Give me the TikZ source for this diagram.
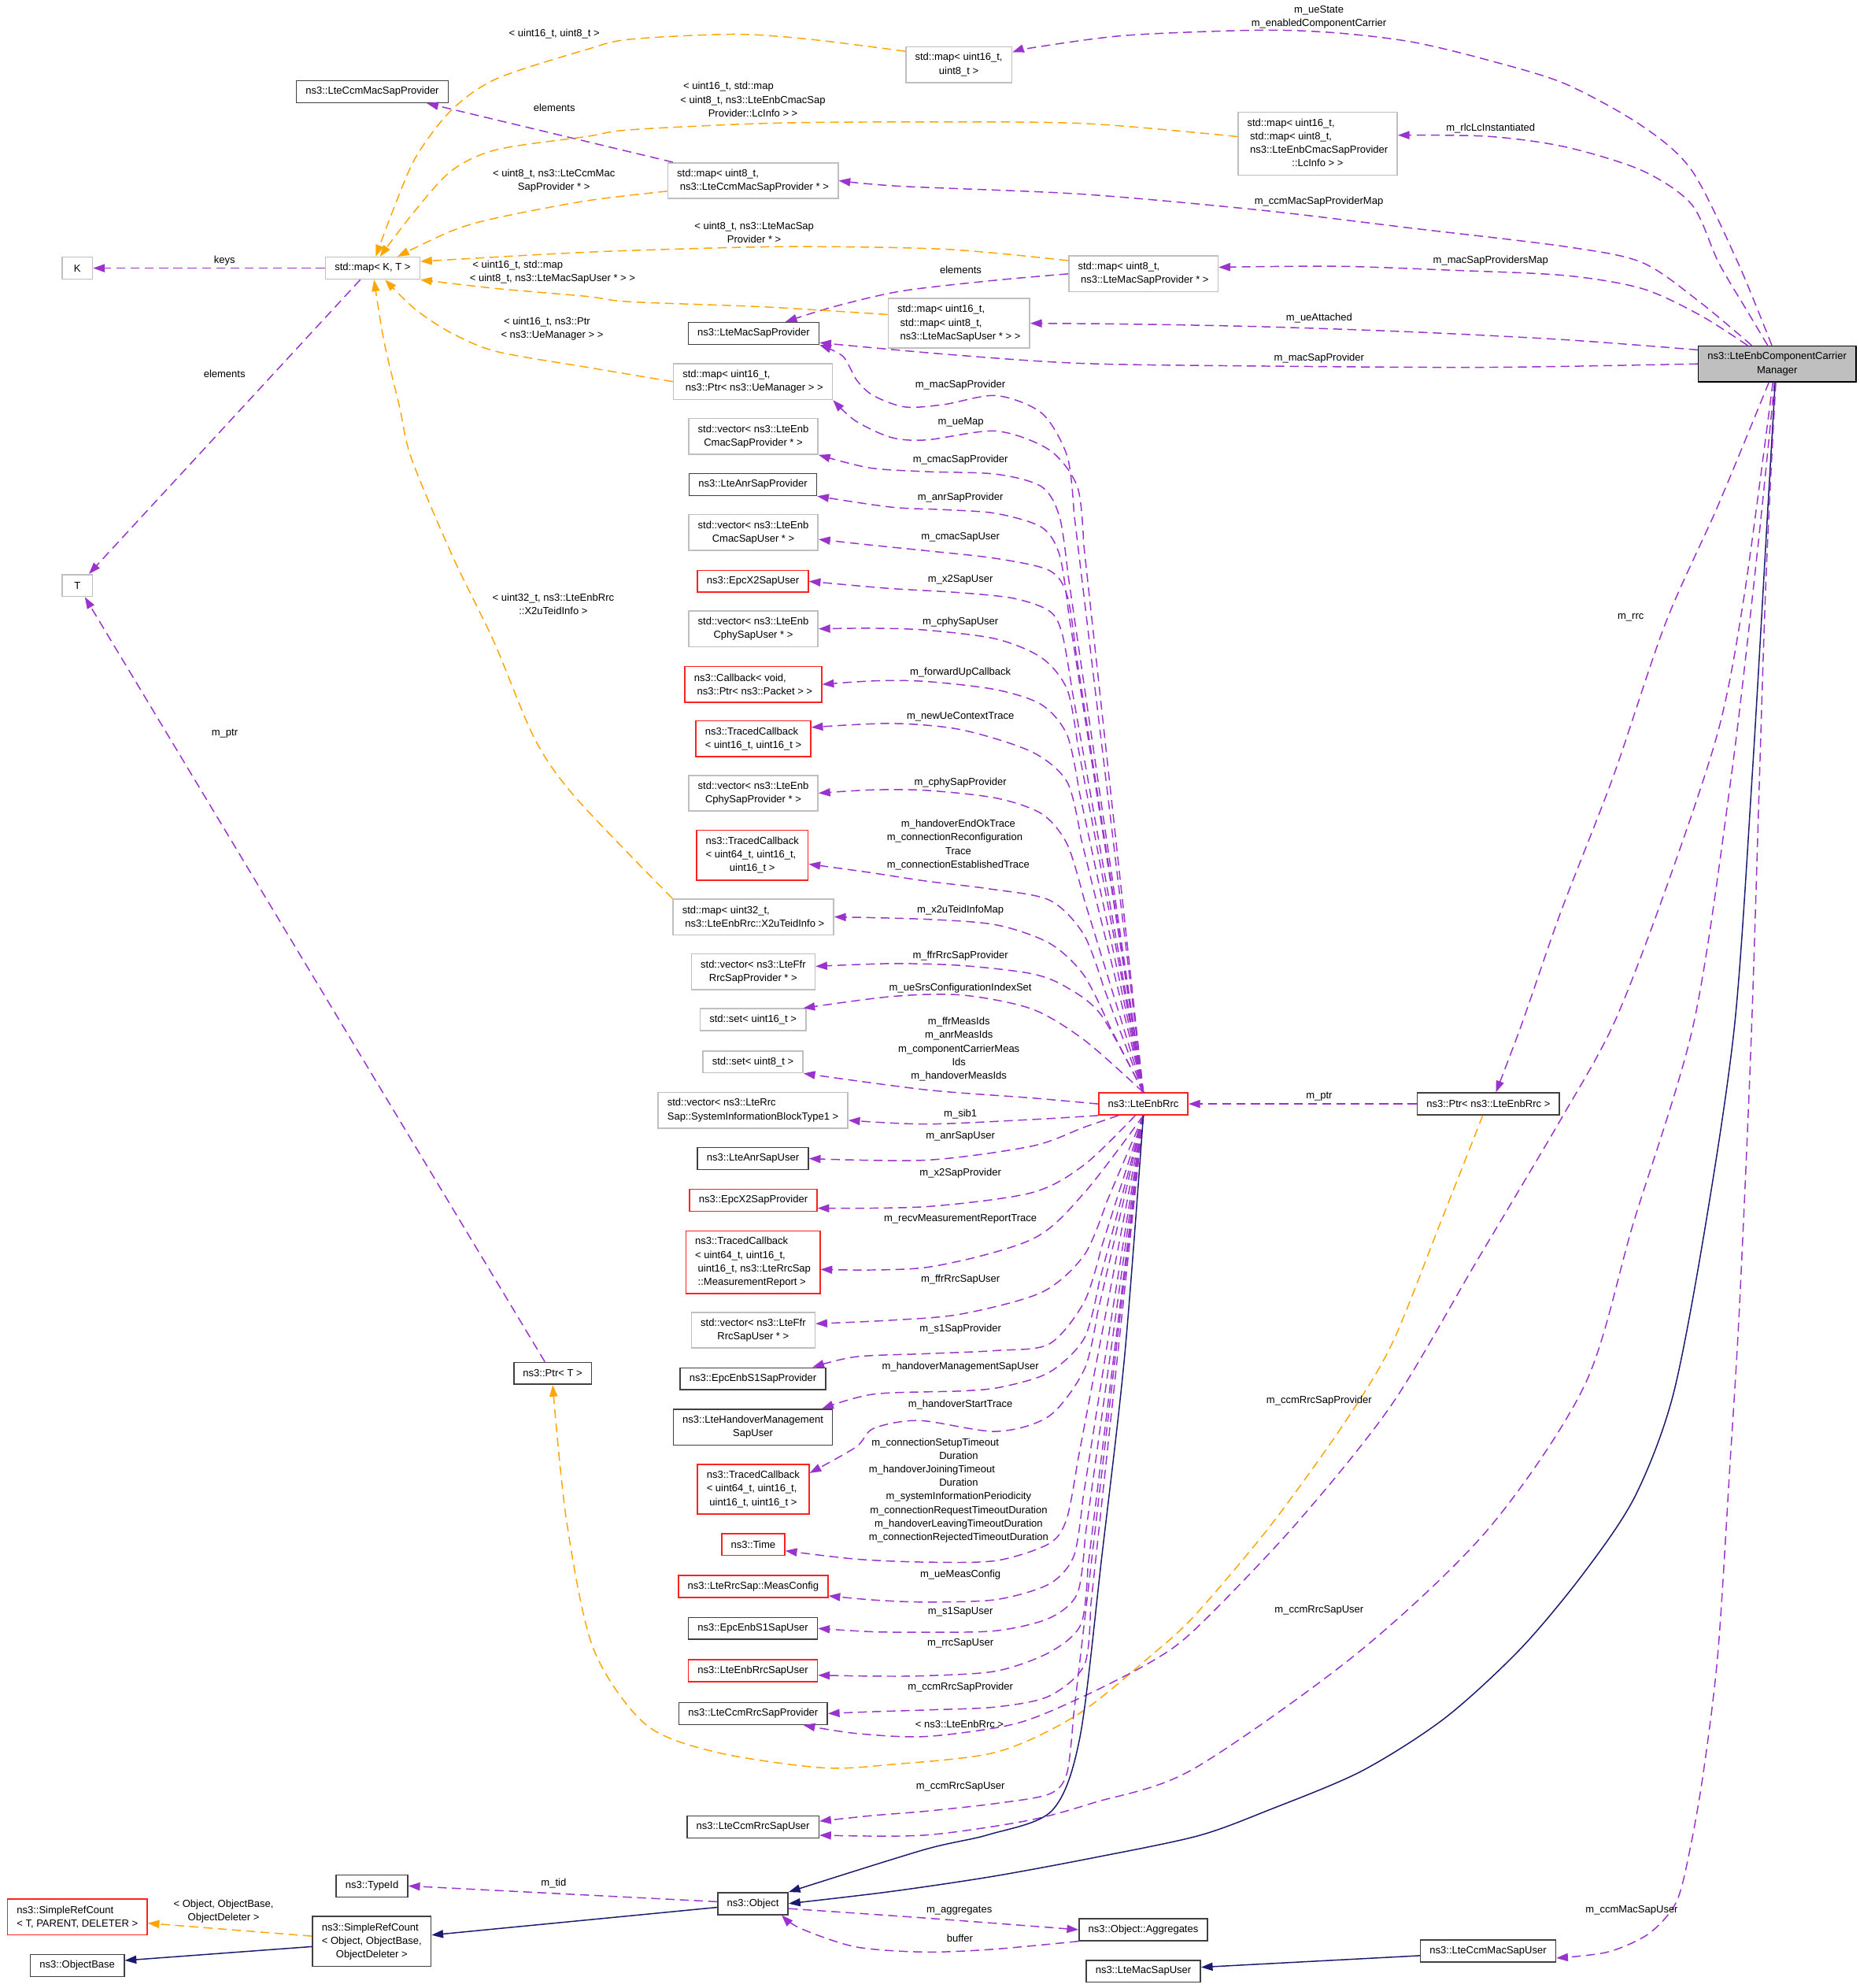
\documentclass[tikz,border=0pt]{standalone}
\usepackage{fontspec}
\setmainfont{Liberation Sans}
\usetikzlibrary{arrows.meta}
\definecolor{dxpurple}{HTML}{9A32CD}
\definecolor{dxorange}{HTML}{FFA500}
\definecolor{dxnavy}{HTML}{191970}
\definecolor{dxred}{HTML}{FF2020}
\definecolor{dxgray}{HTML}{BFBFBF}
\definecolor{dxdark}{HTML}{404040}
\newcommand{\dx}{\fontsize{11.5pt}{15.2pt}\selectfont}
\newcommand{\pad}{\hspace*{3.2pt}}
\newcommand{\lline}[1]{\multicolumn{1}{@{}l@{}}{#1}}
\newcommand{\mixed}[1]{\begin{tabular}{@{}c@{}}#1\end{tabular}}

\begin{document}
\begin{tikzpicture}[
  x=0.05cm, y=-0.05cm,
  cls/.style={draw=dxdark, fill=white, line width=1.4pt, inner xsep=10.4pt, inner ysep=0pt, minimum height=0.865cm, align=center, font=\dx},
  gr/.style={cls, draw=dxgray},
  rd/.style={cls, draw=dxred},
  h2/.style={minimum height=1.41cm},
  h3/.style={minimum height=1.96cm},
  h4/.style={minimum height=2.48cm},
  lbl/.style={inner sep=0pt, align=center, font=\dx},
  mem/.style={draw=dxpurple, line width=1.3pt, dash pattern=on 10pt off 6pt, -{Triangle[length=13pt, width=9pt]}},
  tmpl/.style={mem, draw=dxorange},
  inh/.style={draw=dxnavy, line width=1.3pt, -{Triangle[length=13pt, width=9pt]}}
]
\path[use as bounding box, fill=white] (0,0) rectangle (1467,1568);

\node[gr, minimum width=1.2cm] (k) at (61,211.5) {K};
\node[gr] (mapkt) at (294,211.5) {std::map< K, T >};
\node[gr, minimum width=1.2cm] (t) at (61,461.8) {T};
\node[cls] (ccmmacp) at (293.7,72.3) {ns3::LteCcmMacSapProvider};
\node[gr, h2] (map16) at (756.4,51) {std::map< uint16\_t,\\uint8\_t >};
\node[gr, h4] (maplc) at (1039.5,113.3) {\mixed{\lline{std::map< uint16\_t,}\\\lline{\pad std::map< uint8\_t,}\\\lline{\pad ns3::LteEnbCmacSapProvider}\\::LcInfo > >}};
\node[gr, h2, align=left] (mapccm) at (594,142.5) {std::map< uint8\_t,\\\pad ns3::LteCcmMacSapProvider * >};
\node[gr, h2, align=left] (mapmacp) at (902,216) {std::map< uint8\_t,\\\pad ns3::LteMacSapProvider * >};
\node[gr, h3, align=left] (mapmacu) at (756.5,255) {std::map< uint16\_t,\\\pad std::map< uint8\_t,\\\pad ns3::LteMacSapUser * > >};
\node[cls] (lmacp) at (594.5,263) {ns3::LteMacSapProvider};
\node[gr, h2, align=left] (mapue) at (594,301) {std::map< uint16\_t,\\\pad ns3::Ptr< ns3::UeManager > >};
\node[gr, h2] (vcmacp) at (594.3,344.2) {std::vector< ns3::LteEnb\\CmacSapProvider * >};
\node[cls] (anrp) at (594,382.2) {ns3::LteAnrSapProvider};
\node[gr, h2] (vcmacu) at (594.3,420) {std::vector< ns3::LteEnb\\CmacSapUser * >};
\node[rd] (x2u) at (594,458.5) {ns3::EpcX2SapUser};
\node[gr, h2] (vcphyu) at (594.3,496) {std::vector< ns3::LteEnb\\CphySapUser * >};
\node[rd, h2, align=left] (cb) at (594.3,539.8) {ns3::Callback< void,\\\pad ns3::Ptr< ns3::Packet > >};
\node[rd, h2, align=left] (tcb1) at (594.3,582.6) {ns3::TracedCallback\\< uint16\_t, uint16\_t >};
\node[gr, h2] (vcphyp) at (594.3,625.6) {std::vector< ns3::LteEnb\\CphySapProvider * >};
\node[rd, h3] (tcb2) at (593.5,674.5) {\mixed{\lline{ns3::TracedCallback}\\\lline{< uint64\_t, uint16\_t,}\\uint16\_t >}};
\node[gr, h2, align=left] (mapx2u) at (594.3,723.2) {std::map< uint32\_t,\\\pad ns3::LteEnbRrc::X2uTeidInfo >};
\node[gr, h2] (vffrp) at (594.2,766.5) {std::vector< ns3::LteFfr\\RrcSapProvider * >};
\node[gr] (set16) at (594.1,804.3) {std::set< uint16\_t >};
\node[gr] (set8) at (594,837.5) {std::set< uint8\_t >};
\node[gr, h2, align=left] (vsib) at (594,875.7) {std::vector< ns3::LteRrc\\Sap::SystemInformationBlockType1 >};
\node[cls] (anru) at (594,913.8) {ns3::LteAnrSapUser};
\node[rd] (x2p) at (594.3,946.7) {ns3::EpcX2SapProvider};
\node[rd, h4, align=left] (tcbmr) at (594,995.6) {ns3::TracedCallback\\< uint64\_t, uint16\_t,\\\pad uint16\_t, ns3::LteRrcSap\\\pad ::MeasurementReport >};
\node[gr, h2] (vffru) at (594.2,1049.2) {std::vector< ns3::LteFfr\\RrcSapUser * >};
\node[cls] (s1p) at (594,1087.5) {ns3::EpcEnbS1SapProvider};
\node[cls, h2] (hmu) at (594,1125.7) {ns3::LteHandoverManagement\\SapUser};
\node[rd, h3, align=left] (tcb3) at (594.2,1174.6) {ns3::TracedCallback\\< uint64\_t, uint16\_t,\\\pad uint16\_t, uint16\_t >};
\node[rd] (time) at (594.2,1218.2) {ns3::Time};
\node[rd] (meas) at (594.2,1251.4) {ns3::LteRrcSap::MeasConfig};
\node[cls] (s1u) at (594,1284.4) {ns3::EpcEnbS1SapUser};
\node[rd] (rrcu) at (594,1317.7) {ns3::LteEnbRrcSapUser};
\node[cls] (ccmrrcp) at (594.2,1351.5) {ns3::LteCcmRrcSapProvider};
\node[cls] (ccmrrcu) at (594,1441) {ns3::LteCcmRrcSapUser};
\node[rd] (rrc) at (902,870.7) {ns3::LteEnbRrc};
\node[cls] (ptrrrc) at (1174.2,870.7) {ns3::Ptr< ns3::LteEnbRrc >};
\node[cls, h2, fill=dxgray, draw=black] (ccm) at (1402,287) {ns3::LteEnbComponentCarrier\\Manager};
\node[cls] (ptrt) at (436,1083.2) {ns3::Ptr< T >};
\node[cls] (typeid) at (293.5,1487.5) {ns3::TypeId};
\node[cls] (object) at (594,1501.4) {ns3::Object};
\node[rd, h2, align=left] (srct) at (61,1512) {ns3::SimpleRefCount\\< T, PARENT, DELETER >};
\node[cls, h3] (srco) at (293.3,1531.2) {\mixed{\lline{ns3::SimpleRefCount}\\\lline{< Object, ObjectBase,}\\ObjectDeleter >}};
\node[cls] (objbase) at (61,1550.2) {ns3::ObjectBase};
\node[cls] (aggr) at (902,1522) {ns3::Object::Aggregates};
\node[cls] (ccmmacu) at (1174,1538.7) {ns3::LteCcmMacSapUser};
\node[cls] (lmacu) at (902,1554.8) {ns3::LteMacSapUser};

\draw[mem] (mapkt.west) -- (k.east);
\draw[mem] (mapkt.223) -- (t.45);
\draw[mem] (ptrt.124) -- (t.-57);
\draw[mem] (mapccm.167) -- (ccmmacp.-12);
\draw[mem] plot[smooth] coordinates {(mapmacp.west) (781.8,221.4) (710.5,229.7) (657.1,242.1) (lmacp.20)};

\draw[tmpl] plot[smooth] coordinates {(map16.166) (639,31) (579,27) (497,31) (463,39) (392,62) (356,87) (328,124) (310,166) (mapkt.75)};
\draw[tmpl] plot[smooth] coordinates {(maplc.175) (853,97.3) (710.5,96.2) (603.6,97.3) (496.7,102.4) (463.3,107.6) (392,118) (356.4,134.5) (327.9,165.6) (mapkt.58)};
\draw[tmpl] plot[smooth] coordinates {(mapccm.187) (463.3,158.3) (392,171.8) (356.4,182.1) (mapkt.25)};
\draw[tmpl] plot[smooth] coordinates {(mapmacp.170) (746.2,196.6) (621.4,194.5) (496.7,197.6) (427.6,200.7) (mapkt.8)};
\draw[tmpl] plot[smooth] coordinates {(mapmacu.173) (603.6,242.1) (496.7,238) (463.3,233.8) (392,227.6) (mapkt.south east)};
\draw[tmpl] plot[smooth] coordinates {(mapue.west) (463.3,289.7) (392,277.3) (356.4,262.8) (327.9,244.2) (mapkt.-43)};
\draw[tmpl] plot[smooth] coordinates {(mapx2u.north west) (454.6,629.6) (422.1,583.2) (389.6,506) (357.2,439.1) (324.7,361.9) (315,320) (302.9,269) (mapkt.-83)};

\draw[mem] (ptrrrc.west) -- (rrc.east);
\draw[tmpl] plot[smooth] coordinates {(ptrrrc.244) (1136,965.4) (1097.9,1060.4) (1059.7,1123.7) (1002.6,1202.9) (943.6,1273) (908.1,1305.8) (850,1352.4) (786.2,1381.9) (703,1391.7) (647.6,1394.2) (564.5,1381.9) (509,1359.8) (468,1300) (447,1200) (ptrt.south)};

\draw[mem] plot[smooth] coordinates {(ccm.106) (1371,207) (1334.7,134.5) (1295.4,99.3) (1235,66.2) (1174.6,47.6) (1114,33.1) (1053.7,25.9) (993,23.8) (888.7,27.9) (817.4,37.2) (map16.13)};
\draw[mem] plot[smooth] coordinates {(ccm.117) (1380,248) (1355.8,207) (1334.7,161.4) (1295.4,134.5) (1235,115.9) (1174.6,107.6) (maplc.6)};
\draw[mem] plot[smooth] coordinates {(ccm.144) (1340.7,238) (1295.4,207) (1235,194.5) (1114,180) (993,165.6) (853,153.1) (710.5,146.9) (mapccm.east)};
\draw[mem] plot[smooth] coordinates {(ccm.148) (1340.7,248.3) (1295.4,227.6) (1235,217.3) (1144.4,213.1) (1053.7,210) (mapmacp.5)};
\draw[mem] plot[smooth] coordinates {(ccm.170) (1235,268) (1114,261.8) (993,257.6) (888.7,255.6) (mapmacu.east)};
\draw[mem] plot[smooth] coordinates {(ccm.west) (1174.6,289.7) (993,288.7) (853,286.6) (746,279.4) (lmacp.-8)};
\draw[mem] plot[smooth] coordinates {(ccm.246) (1355.4,398.7) (1314,491.4) (1272.7,612.5) (1231.3,719.4) (1200.8,807) (ptrrrc.57)};
\draw[mem] plot[smooth] coordinates {(ccm.257) (1376,470) (1355.4,576.9) (1314,701.6) (1273.3,807) (1231.3,883) (1164.6,995.4) (1097.9,1107.9) (1021.6,1202.9) (944,1284) (908.1,1310.7) (850,1340.2) (800,1359.8) (730.8,1369.6) (675.3,1367.2) (ccmrrcp.-13)};
\draw[mem] plot[smooth] coordinates {(ccm.262) (1386.5,434.4) (1365.8,612.5) (1336.2,807) (1288.5,965) (1250.4,1092) (1174.1,1206) (1071.2,1303.6) (941,1395.5) (863.7,1421.6) (809.7,1436.1) (728.7,1447.5) (ccmrrcu.-7)};
\draw[inh] plot[smooth] coordinates {(ccm.264) (1394.8,398.7) (1382.3,612.5) (1368.6,807) (1345.7,965) (1320,1100) (1290,1180) (1250,1240) (1200,1300) (1140,1355) (1074,1397) (1000,1428) (945,1448) (864,1465) (783,1480) (702,1492) (object.east)};
\draw[mem] plot[smooth] coordinates {(ccm.266) (1392.7,470) (1382,807) (1372.4,1028.7) (1364.8,1155.4) (1355.3,1303.6) (1344,1396.8) (1333.2,1458.9) (1322.4,1500.3) (1300.8,1525.1) (1268.4,1539.6) (ccmmacu.-6)};

\draw[mem] (rrc.north) -- plot[smooth] coordinates {(847.3,404.7) (842,360) (822,326) (786,312) (745,319) (714,321) (689,312) (676,300) (665,281) (lmacp.south east)};
\draw[mem] (rrc.north) -- plot[smooth] coordinates {(854.9,428.7) (850,384) (828,355) (786,340) (731,347) (703,345) (675,332) (mapue.south east)};
\draw[mem] (rrc.north) -- plot[smooth] coordinates {(842.5,452.5) (836,408) (822,384) (786,374) (731,372) (686,369) (vcmacp.south east)};
\draw[mem] (rrc.north) -- plot[smooth] coordinates {(842.9,482.5) (836,438) (822,416) (786,405) (745,402) (703,400) (anrp.south east)};
\draw[mem] (rrc.north) -- plot[smooth] coordinates {(848.8,514.5) (842,470) (828,450) (786,440.5) (731,434.4) (688,430) (vcmacu.-6)};
\draw[mem] (rrc.north) -- plot[smooth] coordinates {(845.8,544.3) (838,500) (828,482) (800,472) (758,467.5) (700,464) (x2u.east)};
\draw[mem] (rrc.north) -- plot[smooth] coordinates {(850.3,588.2) (842,544) (822,519) (786,504) (731,497) (688,495.5) (vcphyu.east)};
\draw[mem] (rrc.north) -- plot[smooth] coordinates {(851.4,624) (842,580) (822,556) (786,544) (731,537.5) (690,537) (cb.east)};
\draw[mem] (rrc.north) -- plot[smooth] coordinates {(852.7,660.7) (842,617) (814,593) (758,575.5) (703,570.6) (tcb1.11)};
\draw[mem] (rrc.north) -- plot[smooth] coordinates {(855.2,709) (842,666) (822,642) (786,629.5) (731,623.4) (688,623) (vcphyp.east)};
\draw[mem] (rrc.north) -- plot[smooth] coordinates {(870.8,779) (855,737) (828,710) (780,701) (731,695) (685,688) (tcb2.-9)};
\draw[mem] (rrc.north) -- plot[smooth] coordinates {(875.3,809.2) (855,769) (828,744) (786,729.5) (730,725) (mapx2u.east)};
\draw[mem] plot[smooth] coordinates {(rrc.north) (869,801) (842,779) (814,768) (758,761.5) (703,760) (vffrp.5)};
\draw[mem] plot[smooth] coordinates {(rrc.north) (855.5,820.4) (814,795.8) (758.5,784.8) (703,786) (set16.13)};
\draw[mem] plot[smooth] coordinates {(rrc.west) (814,866) (731,859.6) (set8.south east)};
\draw[mem] plot[smooth] coordinates {(rrc.south west) (814,883) (731,886.6) (vsib.-6)};
\draw[mem] plot[smooth] coordinates {(rrc.205) (855.5,889) (814,904) (731,915) (anru.east)};
\draw[mem] plot[smooth] coordinates {(rrc.235) (855.5,918.6) (814,940.7) (731,951.7) (x2p.-7)};
\draw[mem] plot[smooth] coordinates {(rrc.south) (855.5,940.7) (814,977.5) (731,999.6) (tcbmr.-6)};
\draw[mem] (rrc.south) -- plot[smooth] coordinates {(873,948.2) (855.5,989.7) (822,1019.2) (758.5,1036.4) (703,1041.3) (vffru.6)};
\draw[mem] (rrc.south) -- plot[smooth] coordinates {(869,983.7) (855.5,1026.6) (827.8,1060) (786,1065.2) (730.8,1067.7) (675.3,1070.1) (s1p.11)};
\draw[mem] (rrc.south) -- plot[smooth] coordinates {(867,1011.9) (855.5,1055.4) (827.8,1082.4) (790,1094) (758.5,1097.1) (689.2,1099.6) (hmu.15)};
\draw[mem] (rrc.south) -- plot[smooth] coordinates {(865.7,1036.2) (855.5,1080) (827.8,1116.8) (786,1129) (725.2,1120.4) (689.2,1126.6) (675.3,1141.3) (tcb3.16)};
\draw[mem] (rrc.south) -- plot[smooth] coordinates {(850,1153.6) (841.6,1197.8) (827.8,1217.4) (786,1230.9) (730.8,1232.1) (675.3,1229.7) (time.-11)};
\draw[mem] (rrc.south) -- plot[smooth] coordinates {(854.2,1182.8) (847.2,1227.2) (827.8,1249.3) (786,1261.6) (730.8,1263.6) (690,1262) (meas.-7)};
\draw[mem] (rrc.south) -- plot[smooth] coordinates {(856.1,1212.1) (850,1256.7) (827.8,1276.3) (786,1286.2) (730.8,1287.4) (688,1287) (s1u.east)};
\draw[mem] (rrc.south) -- plot[smooth] coordinates {(858.2,1236.6) (852.7,1281.3) (827.8,1303.3) (786,1318) (730.8,1321.7) (688,1322) (rrcu.-4)};
\draw[mem] (rrc.south) -- plot[smooth] coordinates {(860.3,1268.5) (855.5,1313.2) (827.8,1337.7) (786,1346.3) (730.8,1348.7) (690,1350) (ccmrrcp.east)};
\draw[mem] (rrc.south) -- plot[smooth] coordinates {(846.8,1354.3) (841.6,1399) (827.8,1415) (786,1422.4) (730.8,1428.5) (688,1432) (ccmrrcu.5)};
\draw[inh] plot[smooth] coordinates {(rrc.south) (887.4,1067.8) (869.3,1227.2) (852,1370) (830,1428) (780,1447) (728.7,1459) (object.north east)};

\draw[mem] (object.177) -- (typeid.east);
\draw[inh] (object.186) -- (srco.6);
\draw[inh] (srco.185) -- (objbase.6);
\draw[tmpl] (srco.175) -- (srct.-5);
\draw[mem] plot[smooth] coordinates {(object.-8) (728.7,1512.7) (aggr.west)};
\draw[mem] plot[smooth] coordinates {(aggr.south west) (782.7,1537.5) (728.7,1539.6) (674.8,1535.5) (631.6,1521) (object.-22)};
\draw[inh] (ccmmacu.184) -- (lmacu.4);

\node[lbl] (l16u8) at (437.3,26.9) {< uint16\_t, uint8\_t >};
\node[lbl] (lstate) at (1040.5,13.4) {m\_ueState\\m\_enabledComponentCarrier};
\node[lbl] (llc) at (594,79.3) {\mixed{\lline{\pad < uint16\_t, std::map}\\< uint8\_t, ns3::LteEnbCmacSap\\Provider::LcInfo > >}};
\node[lbl] (lelem1) at (437.3,84.8) {elements};
\node[lbl] (lrlc) at (1176,101) {m\_rlcLcInstantiated};
\node[lbl] (lccmmac) at (437,142.5) {< uint8\_t, ns3::LteCcmMac\\SapProvider * >};
\node[lbl] (lccmmap) at (1040.5,158.9) {m\_ccmMacSapProviderMap};
\node[lbl] (lmacsap) at (595,183.5) {< uint8\_t, ns3::LteMacSap\\Provider * >};
\node[lbl] (lkeys) at (177.2,205.9) {keys};
\node[lbl] (lmacmap) at (1176,205.9) {m\_macSapProvidersMap};
\node[lbl] (lmacu) at (435.9,214.8) {\mixed{\lline{\pad < uint16\_t, std::map}\\< uint8\_t, ns3::LteMacSapUser * > >}};
\node[lbl] (lelem2) at (757.9,212.7) {elements};
\node[lbl] (lattached) at (1040.7,251) {m\_ueAttached};
\node[lbl] (luemgr) at (435.6,259.2) {\mixed{\lline{\pad < uint16\_t, ns3::Ptr}\\< ns3::UeManager > >}};
\node[lbl] (lmacp1) at (1040.7,282.9) {m\_macSapProvider};
\node[lbl] (lelem3) at (177.1,294.9) {elements};
\node[lbl] (lmacp2) at (757.6,303.6) {m\_macSapProvider};
\node[lbl] (luemap) at (758,333) {m\_ueMap};
\node[lbl] (lcmacp) at (757.7,362.7) {m\_cmacSapProvider};
\node[lbl] (lanrp) at (757.7,392.6) {m\_anrSapProvider};
\node[lbl] (lcmacu) at (757.7,423.8) {m\_cmacSapUser};
\node[lbl] (lx2u) at (757.7,457.2) {m\_x2SapUser};
\node[lbl] (lcphyu) at (757.7,490.8) {m\_cphySapUser};
\node[lbl] (lfwd) at (757.7,530.6) {m\_forwardUpCallback};
\node[lbl] (lnewue) at (757.7,565.2) {m\_newUeContextTrace};
\node[lbl] (lcphyp) at (757.7,617.3) {m\_cphySapProvider};
\node[lbl] (lhoend) at (756,666.3) {\mixed{m\_handoverEndOkTrace\\\lline{m\_connectionReconfiguration}\\Trace\\m\_connectionEstablishedTrace}};
\node[lbl] (lx2uinfo) at (436.5,476.4) {< uint32\_t, ns3::LteEnbRrc\\::X2uTeidInfo >};
\node[lbl] (lrrc) at (1286.5,487.1) {m\_rrc};
\node[lbl] (lptrt) at (177.3,578.6) {m\_ptr};
\node[lbl] (lx2umap) at (757.7,718) {m\_x2uTeidInfoMap};
\node[lbl] (lffrp) at (757.7,754.1) {m\_ffrRrcSapProvider};
\node[lbl] (lsrs) at (757.7,779.4) {m\_ueSrsConfigurationIndexSet};
\node[lbl] (lmeasids) at (756.5,827.6) {m\_ffrMeasIds\\m\_anrMeasIds\\m\_componentCarrierMeas\\Ids\\m\_handoverMeasIds};
\node[lbl] (lptrrrc) at (1040.7,864.7) {m\_ptr};
\node[lbl] (lsib) at (757.7,878.8) {m\_sib1};
\node[lbl] (lanru) at (757.7,896) {m\_anrSapUser};
\node[lbl] (lx2p) at (757.7,925.4) {m\_x2SapProvider};
\node[lbl] (lrecv) at (757.7,961.5) {m\_recvMeasurementReportTrace};
\node[lbl] (lffru) at (757.7,1009.4) {m\_ffrRrcSapUser};
\node[lbl] (ls1p) at (757.7,1048.2) {m\_s1SapProvider};
\node[lbl] (lhmu) at (757.7,1078) {m\_handoverManagementSapUser};
\node[lbl] (lccmrrcp1) at (1040.7,1104.7) {m\_ccmRrcSapProvider};
\node[lbl] (lhostart) at (757.7,1107.7) {m\_handoverStartTrace};
\node[lbl] (ltime) at (756.3,1175.4) {\mixed{\lline{\pad m\_connectionSetupTimeout}\\Duration\\\lline{m\_handoverJoiningTimeout}\\Duration\\m\_systemInformationPeriodicity\\m\_connectionRequestTimeoutDuration\\m\_handoverLeavingTimeoutDuration\\m\_connectionRejectedTimeoutDuration}};
\node[lbl] (lmeascfg) at (757.7,1242) {m\_ueMeasConfig};
\node[lbl] (lccmrrcu1) at (1040.7,1270.4) {m\_ccmRrcSapUser};
\node[lbl] (ls1u) at (757.7,1271.4) {m\_s1SapUser};
\node[lbl] (lrrcu) at (757.7,1296) {m\_rrcSapUser};
\node[lbl] (lccmrrcp2) at (757.7,1331.1) {m\_ccmRrcSapProvider};
\node[lbl] (lenbrrc) at (757,1359.8) {< ns3::LteEnbRrc >};
\node[lbl] (lccmrrcu2) at (757.7,1409.4) {m\_ccmRrcSapUser};
\node[lbl] (ltid) at (436.8,1485.4) {m\_tid};
\node[lbl] (lsrc) at (176.4,1507.5) {< Object, ObjectBase,\\ObjectDeleter >};
\node[lbl] (lccmmacu) at (1287.3,1506.5) {m\_ccmMacSapUser};
\node[lbl] (laggr) at (756.8,1506.9) {m\_aggregates};
\node[lbl] (lbuffer) at (757.3,1528.6) {buffer};
\end{tikzpicture}
\end{document}
